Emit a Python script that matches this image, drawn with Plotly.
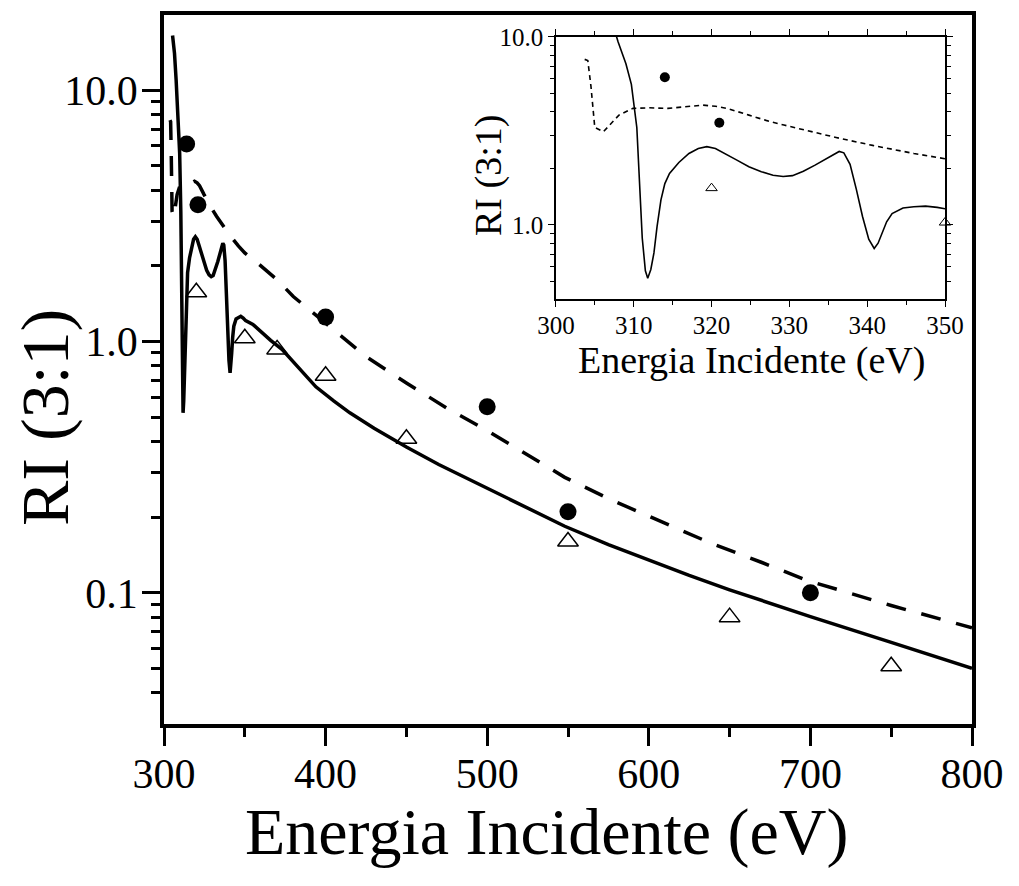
import plotly.graph_objects as go

FONT = "Liberation Serif"

# ---- theory curve 1 (solid) ----
solid_x = [305.3, 306.5, 307.5, 308.0, 309.0, 309.7, 310.4, 310.8, 311.1, 311.5, 311.8,
           312.2, 312.6, 313.0, 313.5, 314.0, 314.6, 315.8, 317.1, 318.3, 319.4, 320.5,
           321.6, 323.2, 324.8, 326.4, 327.9, 329.2, 330.4, 331.8, 333.3, 334.5, 335.6,
           336.4, 337.0, 337.8, 338.6, 339.4, 340.2, 340.9, 341.4, 341.9, 342.5, 343.2,
           344.6, 346.0, 347.5, 349.0, 350.5, 355, 360, 366, 373, 383, 394, 405, 415,
           430, 450, 470, 500, 525, 548, 575, 600, 625, 650, 675, 700, 750, 800]
solid_y = [16.5, 14.0, 11.0, 9.4, 7.2, 5.6, 3.3, 1.6, 0.85, 0.57, 0.52,
           0.58, 0.71, 0.98, 1.36, 1.66, 1.88, 2.15, 2.40, 2.55, 2.61, 2.55,
           2.42, 2.22, 2.04, 1.92, 1.84, 1.81, 1.83, 1.93, 2.08, 2.22, 2.36,
           2.46, 2.42, 2.10, 1.55, 1.11, 0.84, 0.75, 0.80, 0.90, 1.04, 1.15,
           1.23, 1.25, 1.26, 1.24, 1.21, 1.17, 1.09, 1.01, 0.93, 0.79, 0.66, 0.58, 0.52,
           0.452, 0.38, 0.324, 0.26, 0.218, 0.184, 0.1556, 0.1346, 0.1172, 0.1028, 0.0908,
           0.0804, 0.0635, 0.0501]

# ---- theory curve 2 (dashed) ----
dash_x = [303.7, 304.1, 304.5, 305.0, 306.1, 307.0, 308.1, 309.9, 312.0, 314.4, 316.5,
          318.9, 320.5, 322.0, 324.8, 327.0, 329.3, 332.5, 336.0, 340.7, 346.0,
          350, 358, 370, 380, 402, 425, 450, 475, 500, 525, 548, 575, 600, 638, 670,
          698, 750, 800]
dash_y = [7.6, 7.5, 5.5, 3.3, 3.13, 3.45, 3.84, 4.17, 4.2, 4.17, 4.25,
          4.34, 4.28, 4.17, 3.84, 3.6, 3.4, 3.15, 2.92, 2.65, 2.40,
          2.25, 2.05, 1.76, 1.51, 1.15, 0.871, 0.684, 0.543, 0.442, 0.355, 0.288, 0.237,
          0.202, 0.158, 0.132, 0.112, 0.089, 0.0726]

# ---- experimental points ----
circ_x = [314, 321, 400, 500, 550, 700]
circ_y = [6.1, 3.5, 1.25, 0.55, 0.21, 0.10]
tri_x = [320, 350, 370, 400, 450, 550, 650, 750]
tri_y = [1.57, 1.03, 0.93, 0.73, 0.41, 0.16, 0.08, 0.051]

INSET_XMAX = 350

fig = go.Figure()

# main panel
fig.add_trace(go.Scatter(x=solid_x, y=solid_y, mode="lines",
                         line=dict(color="black", width=3.5), xaxis="x", yaxis="y"))
fig.add_trace(go.Scatter(x=dash_x, y=dash_y, mode="lines",
                         line=dict(color="black", width=3.5, dash="20px,16px"), xaxis="x", yaxis="y"))
fig.add_trace(go.Scatter(x=circ_x, y=circ_y, mode="markers",
                         marker=dict(symbol="circle", size=17, color="black"), xaxis="x", yaxis="y"))
fig.add_trace(go.Scatter(x=tri_x, y=tri_y, mode="markers",
                         marker=dict(symbol="triangle-up-open", size=18, color="black",
                                     line=dict(color="black", width=1.5)), xaxis="x", yaxis="y"))

# inset panel
fig.add_trace(go.Scatter(x=solid_x, y=solid_y, mode="lines",
                         line=dict(color="black", width=1.6), xaxis="x2", yaxis="y2"))
fig.add_trace(go.Scatter(x=dash_x, y=dash_y, mode="lines",
                         line=dict(color="black", width=1.6, dash="5px,4px"), xaxis="x2", yaxis="y2"))
ci = [(a, b) for a, b in zip(circ_x, circ_y) if a <= INSET_XMAX]
ti = [(a, b) for a, b in zip(tri_x, tri_y) if a <= INSET_XMAX]
fig.add_trace(go.Scatter(x=[p[0] for p in ci], y=[p[1] for p in ci], mode="markers",
                         marker=dict(symbol="circle", size=10, color="black"),
                         xaxis="x2", yaxis="y2", cliponaxis=False))
fig.add_trace(go.Scatter(x=[p[0] for p in ti], y=[p[1] for p in ti], mode="markers",
                         marker=dict(symbol="triangle-up-open", size=10, color="black",
                                     line=dict(color="black", width=1)),
                         xaxis="x2", yaxis="y2", cliponaxis=False))

main_xticks = [300, 400, 500, 600, 700, 800]
main_xminor = [350, 450, 550, 650, 750]
main_yticks = [0.1, 1, 10]
main_yticktext = ["0.1", "1.0", "10.0"]
main_yminor = [0.03, 0.04, 0.05, 0.06, 0.07, 0.08, 0.09,
               0.2, 0.3, 0.4, 0.5, 0.6, 0.7, 0.8, 0.9,
               2, 3, 4, 5, 6, 7, 8, 9]
inset_xticks = [300, 310, 320, 330, 340, 350]
inset_xminor = [305, 315, 325, 335, 345]
inset_yticks = [1, 10]
inset_yticktext = ["1.0", "10.0"]
inset_yminor = [0.4, 0.5, 0.6, 0.7, 0.8, 0.9, 2, 3, 4, 5, 6, 7, 8, 9]

fig.update_layout(
    width=1019, height=886,
    margin=dict(l=164, r=47, t=15, b=162, pad=0, autoexpand=False),
    paper_bgcolor="white", plot_bgcolor="white",
    showlegend=False,
    font=dict(family=FONT, color="black"),
    xaxis=dict(domain=[0, 1], range=[300, 800], anchor="y", automargin=False,
               tickmode="array", tickvals=main_xticks, ticks="outside", ticklen=18,
               tickwidth=3, tickcolor="black", showline=True, linewidth=3.5,
               linecolor="black", mirror=True, showgrid=False, zeroline=False,
               ticklabelstandoff=-8,
               tickfont=dict(family=FONT, size=42, color="black"),
               minor=dict(tickvals=main_xminor, ticks="outside", ticklen=9,
                          tickwidth=3, tickcolor="black", showgrid=False)),
    yaxis=dict(domain=[0, 1], type="log", range=[-1.522, 1.299], anchor="x", automargin=False,
               tickmode="array", tickvals=main_yticks, ticktext=main_yticktext,
               ticks="outside", ticklen=18, tickwidth=3, tickcolor="black",
               showline=True, linewidth=3.5, linecolor="black", mirror=True,
               showgrid=False, zeroline=False, ticklabelstandoff=-4,
               tickfont=dict(family=FONT, size=42, color="black"),
               minor=dict(tickvals=main_yminor, ticks="outside", ticklen=9,
                          tickwidth=3, tickcolor="black", showgrid=False)),
    xaxis2=dict(domain=[0.485, 0.9666], range=[300, 350], anchor="y2", automargin=False,
                tickmode="array", tickvals=inset_xticks, ticks="outside", ticklen=6,
                tickwidth=1.2, tickcolor="black", showline=True, linewidth=1.5,
                linecolor="black", mirror="allticks", showgrid=False, zeroline=False,
                ticklabelstandoff=-3,
                tickfont=dict(family=FONT, size=25, color="black"),
                minor=dict(tickvals=inset_xminor, ticks="outside", ticklen=4,
                           tickwidth=1.2, tickcolor="black", showgrid=False)),
    yaxis2=dict(domain=[0.5994, 0.969], type="log", range=[-0.394, 1], anchor="x2",
                automargin=False,
                tickmode="array", tickvals=inset_yticks, ticktext=inset_yticktext,
                ticks="outside", ticklen=6, tickwidth=1.2, tickcolor="black",
                showline=True, linewidth=1.5, linecolor="black", mirror="allticks",
                showgrid=False, zeroline=False,
                tickfont=dict(family=FONT, size=25, color="black"),
                minor=dict(tickvals=inset_yminor, ticks="outside", ticklen=4,
                           tickwidth=1.2, tickcolor="black", showgrid=False)),
    annotations=[
        dict(text="Energia Incidente (eV)", xref="paper", yref="paper",
             x=(546 - 164) / 808, y=(724 - 832) / 709, xanchor="center", yanchor="middle",
             showarrow=False, font=dict(family=FONT, size=66, color="black")),
        dict(text="RI (3:1)", xref="paper", yref="paper", textangle=-90,
             x=(45 - 164) / 808, y=(724 - 418) / 709, xanchor="center", yanchor="middle",
             showarrow=False, font=dict(family=FONT, size=68, color="black")),
        dict(text="Energia Incidente (eV)", xref="paper", yref="paper",
             x=(751 - 164) / 808, y=(724 - 360) / 709, xanchor="center", yanchor="middle",
             showarrow=False, font=dict(family=FONT, size=38, color="black")),
        dict(text="RI (3:1)", xref="paper", yref="paper", textangle=-90,
             x=(488 - 164) / 808, y=(724 - 176) / 709, xanchor="center", yanchor="middle",
             showarrow=False, font=dict(family=FONT, size=38, color="black")),
    ],
)

fig.write_html("out.html")
